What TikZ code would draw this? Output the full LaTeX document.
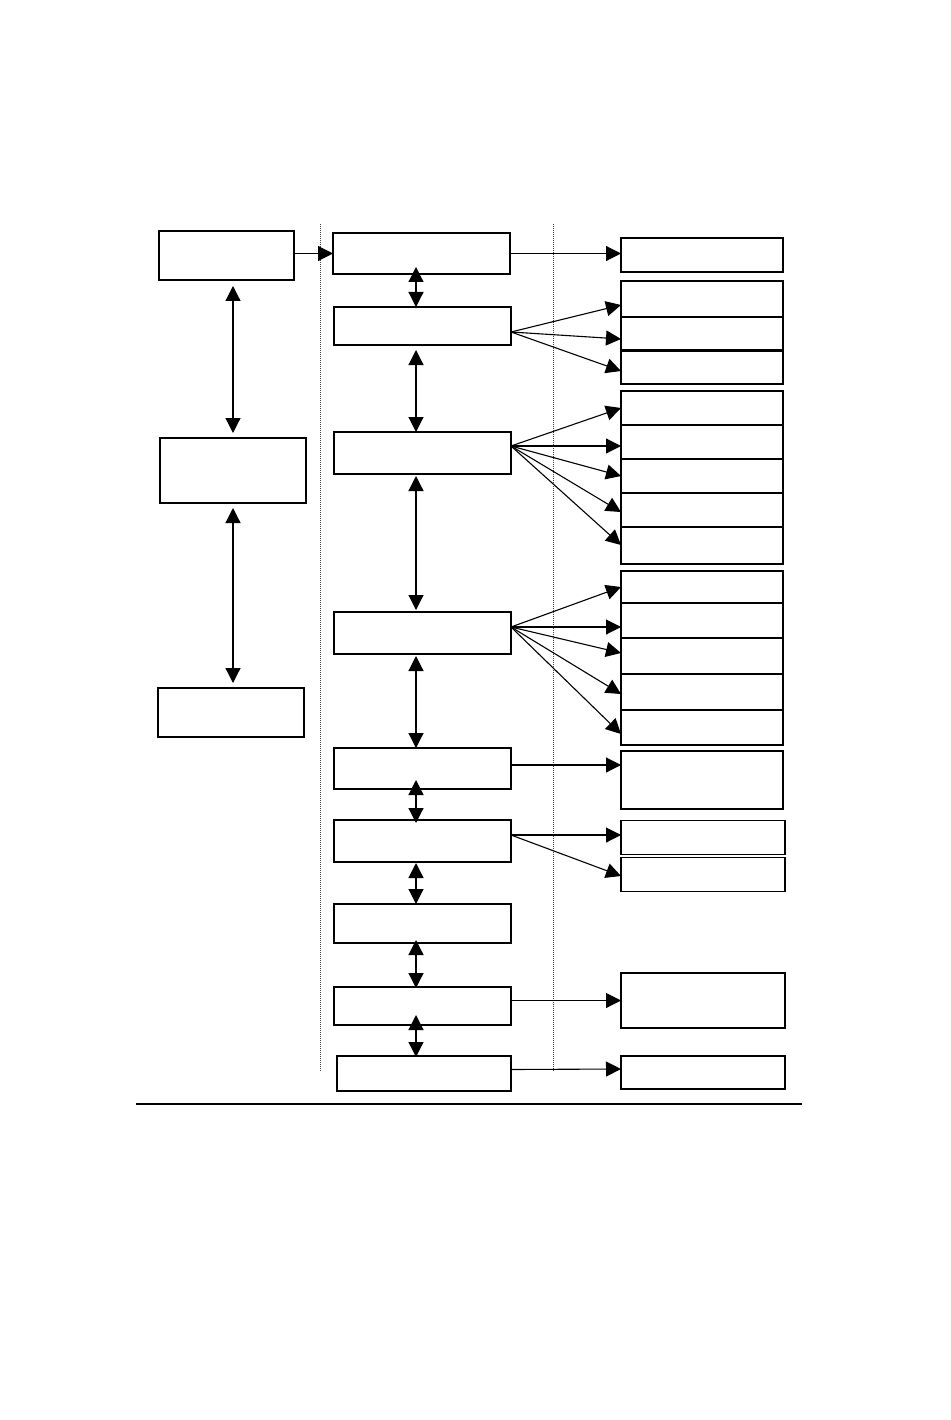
\documentclass[tikz,border=0pt]{standalone}
\usetikzlibrary{arrows.meta}
\begin{document}
\begin{tikzpicture}[x=1pt,y=-1pt,
        box/.style={draw,line width=1.2pt,inner sep=0pt,outer sep=0pt},
        arr/.style={line width=1.1pt,-{Triangle[length=15pt,width=15pt]}},
        dbl/.style={line width=1.2pt,{Triangle[length=15pt,width=15pt]}-{Triangle[length=15pt,width=15pt]}},
        sep/.style={line width=0.9pt,dash pattern=on 1pt off 1pt,black!75}]
    \useasboundingbox (0,0) rectangle (950,1420);

    % left column
    \node[box,minimum width=135,minimum height=49] (l1) at (226.5,255.5) {};
    \node[box,minimum width=146,minimum height=65] (l2) at (233,470.5) {};
    \node[box,minimum width=146,minimum height=49] (l3) at (231,712.5) {};

    % middle column
    \node[box,minimum width=177,minimum height=41] (m1) at (421.5,253.5) {};
    \foreach \n/\y/\h in {m2/326/38,m3/453/42,m4/633/42,m5/768.5/41,m6/841/42,m7/923.5/39,m8/1006/38}{% boxes
        \node[box,minimum width=177,minimum height=\h] (\n) at (422.5,\y) {};
    }
    \node[box,minimum width=174,minimum height=35] (m9) at (424,1073.5) {};

    % right column
    \foreach \n/\y/\h in {r1/255/34,r2a/299/36,r2b/333.5/33,r2c/367.5/33,
            r3a/408/34,r3b/442/34,r3c/476/34,r3d/510/34,r3e/545.5/37,
            r4a/587/32,r4b/620.5/35,r4c/656/36,r4d/692/36,r4e/727.5/35,r5/780/58}{% stacks
        \node[box,minimum width=162,minimum height=\h] (\n) at (702,\y) {};
    }
    \foreach \n/\y/\h in {r6/837.5/34,r7/874.5/34,r8/1000.5/55,r9/1072.5/33}{%
        \node[box,minimum width=164,minimum height=\h] (\n) at (703,\y) {};
    }

    % separators
    \draw[sep] (320,224) -- (320,1072);
    \draw[sep] (553,224) -- (553,1072);
    \draw[line width=1.3pt] (136,1104) -- (802,1104);

    % left links
    \draw[dbl,shorten <=6pt,shorten >=5pt] (l1.south -| l2.north) -- (l2.north);
    \draw[dbl,shorten <=5pt,shorten >=5pt] (l2.south) -- (l2.south |- l3.north);
    \draw[arr] (m1.west -| l1.east) -- (m1.west);

    % middle links
    \coordinate (ax) at (416,0);
    \foreach \a/\b/\s/\e in {m1/m2/-7/0,m2/m3/5/0,m3/m4/2/2,m4/m5/2/0,
            m5/m6/-9/-3,m6/m7/1/0,m7/m8/-3/-1,m8/m9/-10/-1}{%
        \draw[dbl,shorten <=\s pt,shorten >=\e pt] (\a.south -| ax) -- (\b.north -| ax);
    }

    % fans
    \coordinate (f2) at ([yshift=-6pt]m2.east);
    \coordinate (f3) at ([yshift=7pt]m3.east);
    \coordinate (f4) at ([yshift=6pt]m4.east);
    \coordinate (f6) at ([yshift=6pt]m6.east);
    \foreach \t/\s in {r2a/-6,r2b/-5.5,r2c/-3.5}
        \draw[arr] (f2) -- ([yshift=\s pt]\t.west);
    \foreach \t/\s in {r3a/0,r3b/-4,r3c/0,r3d/-2,r3e/0.5}
        \draw[arr] (f3) -- ([yshift=\s pt]\t.west);
    \foreach \t/\s in {r4a/0,r4b/-6.5,r4c/3,r4d/-2,r4e/-6.5}
        \draw[arr] (f4) -- ([yshift=\s pt]\t.west);
    \foreach \t/\s in {r6/2.5,r7/-1.5}
        \draw[arr] (f6) -- ([yshift=\s pt]\t.west);

    \draw[arr] (m1.east) -- (m1.east -| r1.west);
    \draw[arr] ([yshift=3.5pt]m5.east) -- ([yshift=15pt]r5.west);
    \draw[arr] (r8.west -| m8.east) -- (r8.west);
    \draw[arr] ([yshift=4pt]m9.east) -- ([yshift=3.5pt]r9.west);
\end{tikzpicture}
\end{document}
